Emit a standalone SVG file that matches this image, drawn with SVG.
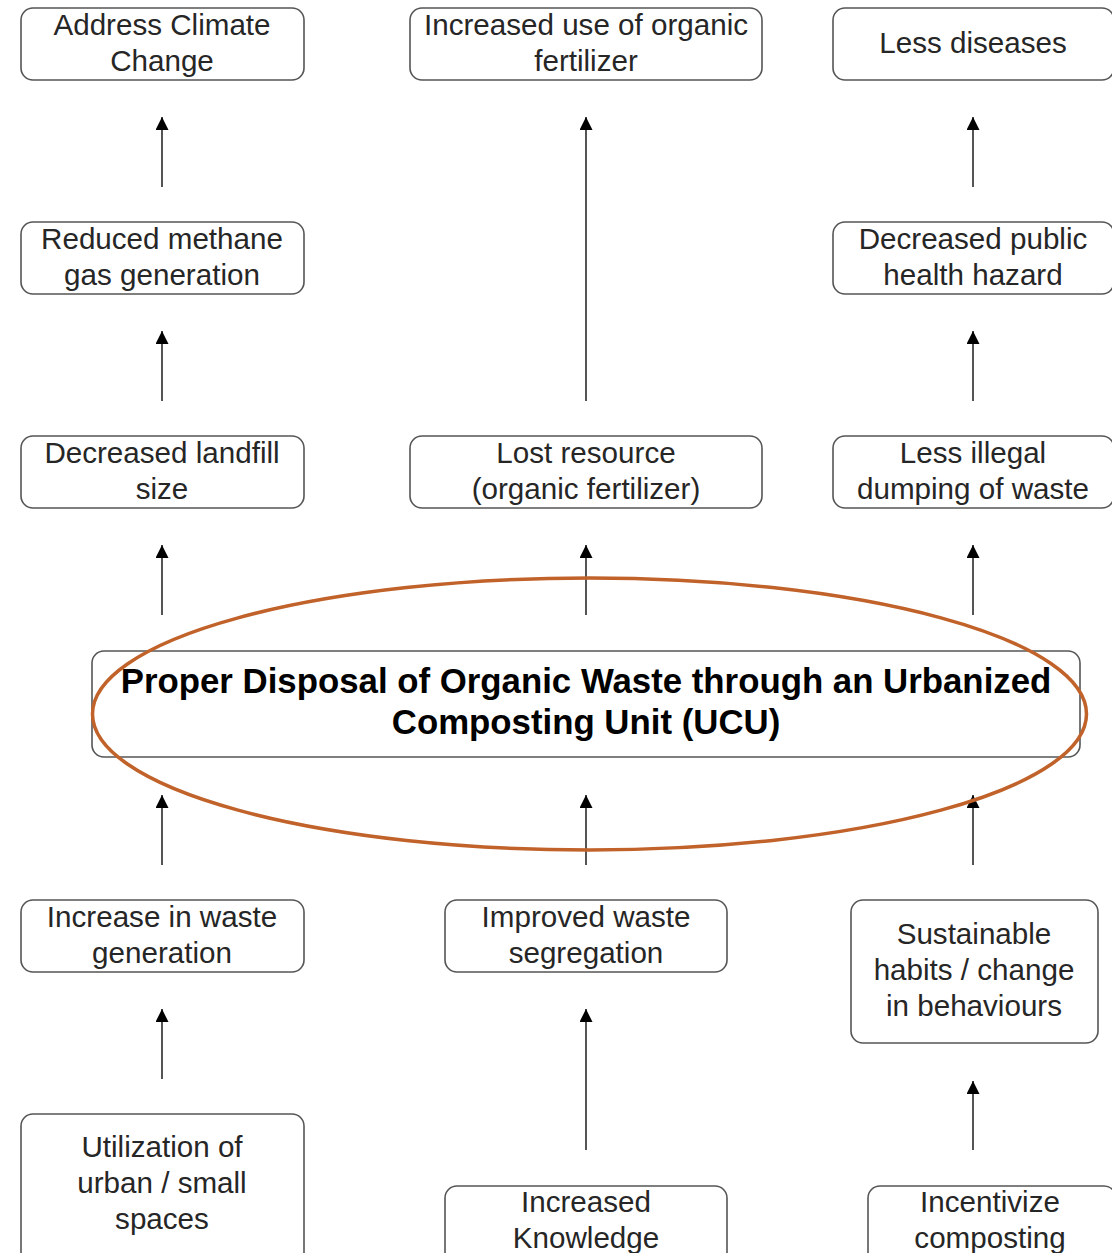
<svg xmlns="http://www.w3.org/2000/svg" width="1112" height="1253" viewBox="0 0 1112 1253">
<style>
.box{fill:#fff;stroke:#555;stroke-width:1.6}
.t{font-family:"Liberation Sans",Arial,sans-serif;font-size:29.6px;fill:#262626;text-anchor:middle}
.b{font-family:"Liberation Sans",Arial,sans-serif;font-size:34.8px;font-weight:bold;fill:#000;text-anchor:middle}
.c{stroke:#555;stroke-width:2;fill:none;marker-end:url(#ah)}
</style>
<defs>
<marker id="ah" markerUnits="userSpaceOnUse" markerWidth="14" markerHeight="14" refX="13" refY="6.5" orient="auto">
<path d="M0,0 L13,6.5 L0,13 z" fill="#000"/>
</marker>
</defs>
<rect width="1112" height="1253" fill="#fff"/>
<g id="connectors">
<line class="c" x1="162" y1="187" x2="162" y2="117"/>
<line class="c" x1="162" y1="401" x2="162" y2="331"/>
<line class="c" x1="162" y1="615" x2="162" y2="545"/>
<line class="c" x1="162" y1="865" x2="162" y2="795"/>
<line class="c" x1="162" y1="1079" x2="162" y2="1009"/>
<line class="c" x1="586" y1="401" x2="586" y2="117"/>
<line class="c" x1="586" y1="615" x2="586" y2="545"/>
<line class="c" x1="586" y1="865" x2="586" y2="795"/>
<line class="c" x1="586" y1="1150" x2="586" y2="1009"/>
<line class="c" x1="973" y1="187" x2="973" y2="117"/>
<line class="c" x1="973" y1="401" x2="973" y2="331"/>
<line class="c" x1="973" y1="615" x2="973" y2="545"/>
<line class="c" x1="973" y1="865" x2="973" y2="795"/>
<line class="c" x1="973" y1="1150" x2="973" y2="1081"/>
</g>
<g id="n-climate"><rect class="box" x="21" y="8" width="283" height="72" rx="12"/><text class="t" x="162" y="35">Address Climate</text><text class="t" x="162" y="71">Change</text></g>
<g id="n-fertilizer-use"><rect class="box" x="410" y="8" width="352" height="72" rx="12"/><text class="t" x="586" y="35">Increased use of organic</text><text class="t" x="586" y="71">fertilizer</text></g>
<g id="n-diseases"><rect class="box" x="833" y="8" width="281" height="72" rx="12"/><text class="t" x="973" y="53">Less diseases</text></g>
<g id="n-methane"><rect class="box" x="21" y="222" width="283" height="72" rx="12"/><text class="t" x="162" y="249">Reduced methane</text><text class="t" x="162" y="285">gas generation</text></g>
<g id="n-health"><rect class="box" x="833" y="222" width="281" height="72" rx="12"/><text class="t" x="973" y="249">Decreased public</text><text class="t" x="973" y="285">health hazard</text></g>
<g id="n-landfill"><rect class="box" x="21" y="436" width="283" height="72" rx="12"/><text class="t" x="162" y="463">Decreased landfill</text><text class="t" x="162" y="499">size</text></g>
<g id="n-lost"><rect class="box" x="410" y="436" width="352" height="72" rx="12"/><text class="t" x="586" y="463">Lost resource</text><text class="t" x="586" y="499">(organic fertilizer)</text></g>
<g id="n-dumping"><rect class="box" x="833" y="436" width="281" height="72" rx="12"/><text class="t" x="973" y="463">Less illegal</text><text class="t" x="973" y="499">dumping of waste</text></g>
<g id="n-core"><rect class="box" x="92" y="651" width="988" height="106" rx="12"/><text class="b" x="586" y="693">Proper Disposal of Organic Waste through an Urbanized</text><text class="b" x="586" y="734">Composting Unit (UCU)</text></g>
<g id="n-waste-gen"><rect class="box" x="21" y="900" width="283" height="72" rx="12"/><text class="t" x="162" y="927">Increase in waste</text><text class="t" x="162" y="963">generation</text></g>
<g id="n-segregation"><rect class="box" x="445" y="900" width="282" height="72" rx="12"/><text class="t" x="586" y="927">Improved waste</text><text class="t" x="586" y="963">segregation</text></g>
<g id="n-habits"><rect class="box" x="851" y="900" width="247" height="143" rx="12"/><text class="t" x="974" y="944">Sustainable</text><text class="t" x="974" y="980">habits / change</text><text class="t" x="974" y="1016">in behaviours</text></g>
<g id="n-spaces"><rect class="box" x="21" y="1114" width="283" height="150" rx="12"/><text class="t" x="162" y="1157">Utilization of</text><text class="t" x="162" y="1193">urban / small</text><text class="t" x="162" y="1229">spaces</text></g>
<g id="n-knowledge"><rect class="box" x="445" y="1186" width="282" height="80" rx="12"/><text class="t" x="586" y="1212">Increased</text><text class="t" x="586" y="1248">Knowledge</text></g>
<g id="n-incentive"><rect class="box" x="868" y="1186" width="248" height="80" rx="12"/><text class="t" x="990" y="1212">Incentivize</text><text class="t" x="990" y="1248">composting</text></g>
<ellipse cx="589.5" cy="714" rx="497" ry="136" fill="none" stroke="#C0622A" stroke-width="3.5"/>
</svg>
